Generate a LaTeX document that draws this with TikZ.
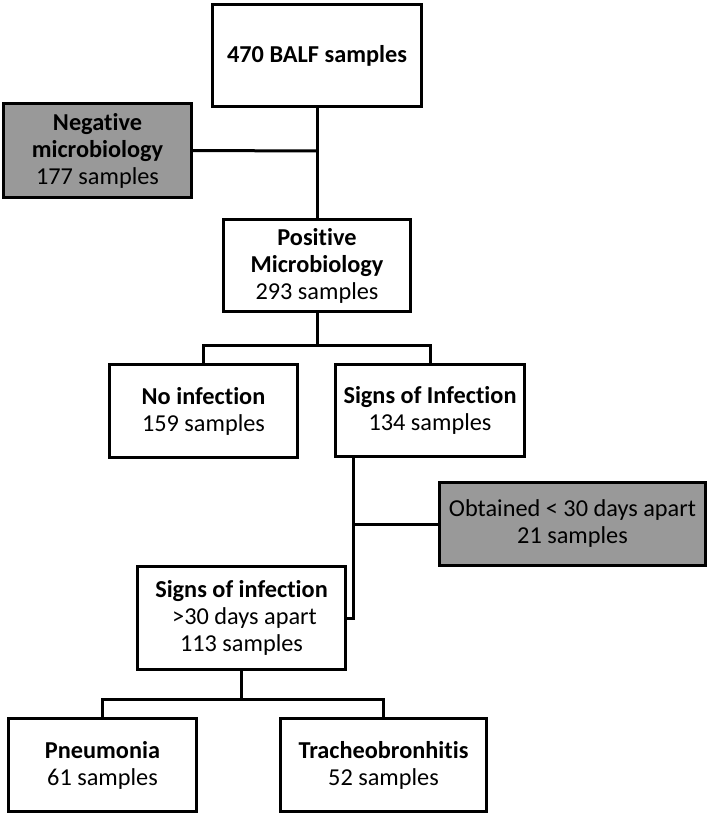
\documentclass[tikz,border=0pt]{standalone}
\usepackage{fontspec}
\setmainfont{Carlito}[Ligatures=NoCommon]
\usetikzlibrary{calc}
\definecolor{boxgray}{RGB}{153,153,153}
\begin{document}
\begin{tikzpicture}[x=1pt,y=-1pt,
  box/.style={draw=black,line width=3pt,fill=white,align=center,inner sep=0pt,
    font=\fontsize{24.3}{27}\selectfont},
  graybox/.style={box,fill=boxgray},
  conn/.style={draw=black,line width=3pt}]
\useasboundingbox (0,0) rectangle (709,816);
% nodes
\node[box,minimum width=209,minimum height=102] (top) at (317,55.5) {\textbf{470 BALF samples}};
\node[graybox,minimum width=188,minimum height=94] (neg) at (97.5,150.5) {\textbf{Negative}\\\textbf{microbiology}\\177 samples};
\node[box,minimum width=187,minimum height=92] (pos) at (317,265.5) {\textbf{Positive}\\\textbf{Microbiology}\\293 samples};
\node[box,minimum width=188,minimum height=93] (noinf) at (203.5,411) {\textbf{No infection}\\159 samples};
\node[box,minimum width=189,minimum height=92] (signs) at (430,410.5) {\textbf{Signs of Infection}\\134 samples};
\node[graybox,minimum width=266,minimum height=83] (obt) at (572.5,524) {Obtained < 30 days apart\\21 samples};
\node[box,minimum width=208,minimum height=103] (gt) at (241.5,618) {\textbf{Signs of infection}\\\hspace{6pt}>30 days apart\\113 samples};
\node[box,minimum width=188,minimum height=93] (pneu) at (102.5,765) {\textbf{Pneumonia}\\61 samples};
\node[box,minimum width=206,minimum height=93] (trach) at (383.5,765) {\textbf{Tracheobronhitis}\\52 samples};
% junction coordinates
\coordinate (j0) at (317,151);
\coordinate (j1) at (317,345);
\coordinate (j2) at (353,618);
\coordinate (j3) at (241.5,699);
% connectors
\draw[conn] (top.south) -- (pos.north);
\draw[conn] (neg.east) -- (j0);
\draw[conn] (pos.south) -- (j1);
\draw[conn] (noinf.north) -- (noinf.north |- j1) -- (signs.north |- j1) -- (signs.north);
\draw[conn] (signs.south -| j2) -- (j2) -- (gt.east);
\draw[conn] (obt.west) -- (obt.west -| j2);
\draw[conn] (gt.south) -- (j3);
\draw[conn] (pneu.north) -- (pneu.north |- j3) -- (trach.north |- j3) -- (trach.north);
\end{tikzpicture}
\end{document}
